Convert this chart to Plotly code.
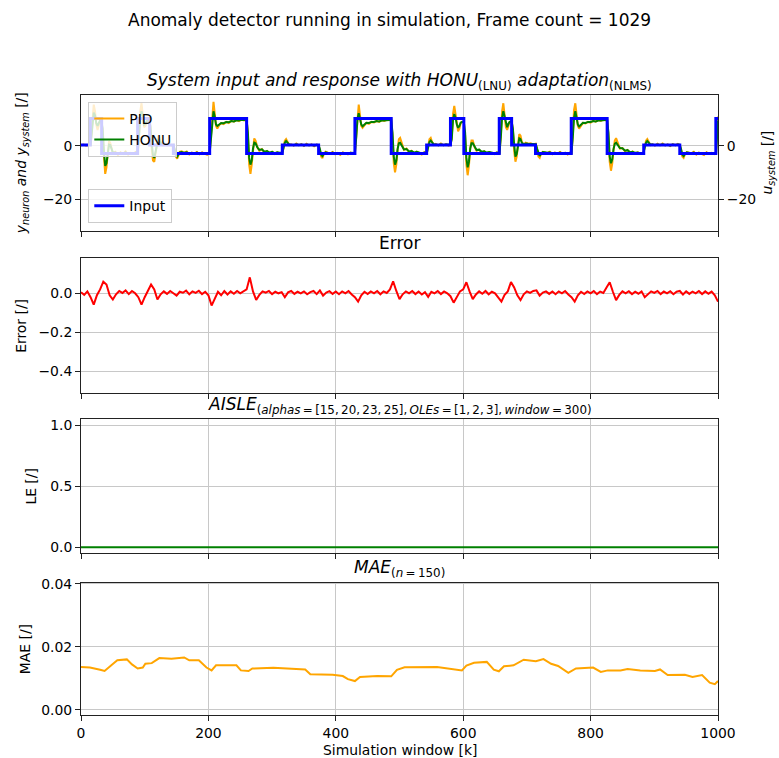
import plotly.graph_objects as go

# ---------------- data ----------------
x_ticks = [0, 200, 400, 600, 800, 1000]

# system input (step signal, right axis u_system)
input_k = [0, 14.6, 32.4, 88.9, 107.7, 145, 202, 260, 316, 373, 430, 487, 542.6,
           580, 601, 656.6, 676, 713.5, 769.6, 826, 883.4, 940, 996.6, 1000]
input_u = [0.3, 10.3, -2.8, 10.3, 0.3, -2.8, 10.3, -2.8, 0.3, -2.8, 10.3, -2.8, 0.3,
           10.3, -2.8, 10.3, 0.3, -2.8, 10.3, -2.8, 0.3, -2.8, 10.3, 10.3]

# sample positions of the system responses
resp_k = [
    0, 4, 8, 12, 15,
    16, 18, 20, 22, 24, 26, 28, 30, 32,
    34, 36, 38, 40, 42, 44, 46, 48, 50,
    54, 58, 62, 66, 70, 74, 78, 82, 86, 89,
    91, 93, 95, 97, 99, 101, 103, 105, 107,
    109, 111, 113, 115, 117, 119, 121, 123, 125, 128, 131, 135, 139, 142, 145,
    147, 149, 151, 153, 155, 158,
    162, 166, 170, 174, 178, 182, 186, 190, 194, 198, 202,
    204, 206, 208, 210, 212, 214, 217, 220, 224, 228, 232, 236, 240, 244, 248, 252, 256, 260,
    262, 264, 266, 268, 270, 272, 274, 277, 280, 284, 288, 292, 296, 300, 304, 308, 312, 316,
    318, 320, 322, 324, 327, 330,
    334, 338, 342, 346, 350, 354, 358, 362, 366, 370, 373,
    375, 377, 379, 381, 384, 387,
    391, 395, 399, 403, 407, 411, 415, 419, 423, 427, 430,
    432, 434, 436, 438, 440, 442, 445, 448, 452, 456, 460, 464, 468, 472, 476, 480, 484, 487,
    489, 491, 493, 495, 497, 499, 501, 504, 507, 511, 515, 519, 523, 527, 531, 535, 539, 543,
    545, 547, 549, 551, 554, 557,
    561, 565, 569, 573, 577, 580,
    582, 584, 586, 588, 590, 592, 594, 596, 598, 601,
    603, 605, 607, 609, 611, 613, 615, 618, 621, 625, 629, 633, 637, 641, 645, 649, 653, 657,
    659, 661, 663, 665, 667, 669, 671, 673, 676,
    678, 680, 682, 684, 686, 688, 690, 692, 695, 698, 702, 706, 710, 714,
    716, 718, 720, 722, 725, 728,
    732, 736, 740, 744, 748, 752, 756, 760, 764, 768, 770,
    772, 774, 776, 778, 780, 782, 785, 788, 792, 796, 800, 804, 808, 812, 816, 820, 824, 826,
    828, 830, 832, 834, 836, 838, 840, 843, 846, 850, 854, 858, 862, 866, 870, 874, 878, 883,
    885, 887, 889, 891, 894, 897,
    901, 905, 909, 913, 917, 921, 925, 929, 933, 937, 940,
    942, 944, 946, 948, 951, 954,
    958, 962, 966, 970, 974, 978, 982, 986, 990, 994, 997,
    998, 1000,
]

# PID controlled system output
pid_y = [
    0.2, 0.5, 0.1, 0.4, 0.3,
    3.0, 11.0, 15.5, 13.0, 8.0, 6.0, 8.5, 9.5, 9.0,
    6.0, -4.0, -10.5, -8.0, -2.0, 1.8, 1.0, -1.5, -2.8,
    -2.2, -3.4, -2.4, -3.0, -2.0, -3.3, -2.6, -2.9, -2.3, -2.8,
    4.0, 13.0, 16.0, 12.5, 7.0, 7.5, 9.0, 9.8, 9.5,
    7.0, -1.0, -5.5, -6.0, -2.5, 1.5, 3.5, 3.2, 1.5, 0.3, 0.8, 0.2, 0.6, 0.1, 0.4,
    -1.5, -4.0, -4.8, -3.5, -2.2, -2.0,
    -2.6, -2.1, -3.2, -2.5, -2.9, -2.3, -3.1, -2.4, -2.8, -3.3, -2.6,
    3.5, 13.0, 16.5, 12.0, 7.5, 6.5, 7.8, 8.5, 8.2, 9.0, 8.6, 9.4, 9.1, 9.7, 9.3, 9.9, 9.6, 10.0,
    4.0, -7.0, -10.5, -7.0, -1.0, 2.8, 2.0, -0.5, -1.8, -1.2, -2.6, -1.9, -2.8, -2.2, -3.0, -2.4, -2.9, -2.6,
    -0.5, 2.0, 2.6, 1.5, 0.3, 0.6,
    0.1, 0.9, 0.3, 0.7, 0.0, 0.8, 0.2, 0.6, -0.1, 0.5, 0.3,
    -1.5, -4.0, -4.6, -3.2, -2.2, -2.5,
    -2.9, -2.3, -3.1, -2.6, -3.4, -2.4, -2.8, -3.2, -2.5, -3.0, -2.7,
    3.5, 12.5, 15.5, 11.5, 7.5, 6.8, 7.8, 8.6, 8.3, 9.0, 8.8, 9.3, 9.0, 9.6, 9.4, 9.8, 9.6, 9.9,
    4.0, -6.5, -9.9, -7.0, -1.5, 2.5, 3.0, 0.5, -1.5, -1.0, -2.4, -1.8, -2.9, -2.2, -2.7, -3.2, -2.4, -2.6,
    0.0, 2.5, 3.0, 1.5, 0.4, 0.8,
    0.2, 0.9, 0.3, 0.7, 0.1, 0.4,
    3.0, 12.0, 15.0, 12.0, 7.5, 5.5, 6.5, 8.5, 9.0, 8.8,
    4.0, -7.0, -11.0, -7.5, -1.0, 2.0, 2.0, -0.5, -1.8, -1.4, -2.6, -2.0, -2.9, -2.3, -2.8, -3.1, -2.4, -2.7,
    4.0, 13.0, 16.0, 12.0, 7.0, 6.0, 8.0, 9.0, 9.3,
    6.0, -2.0, -5.9, -4.0, 1.0, 4.4, 3.8, 1.5, 0.5, 1.2, 0.8, 1.0, 0.6, 0.8,
    -1.5, -4.0, -4.5, -3.0, -2.2, -2.4,
    -2.7, -2.2, -3.1, -2.5, -2.9, -2.3, -3.0, -2.6, -3.2, -2.4, -2.7,
    4.0, 13.5, 16.0, 12.0, 7.5, 6.5, 7.8, 8.6, 8.4, 9.0, 8.7, 9.4, 9.1, 9.7, 9.4, 9.9, 9.6, 9.8,
    4.0, -6.0, -9.3, -6.5, -1.5, 2.0, 2.9, 1.0, -1.0, -0.8, -2.0, -1.5, -2.7, -2.1, -2.9, -2.4, -3.0, -2.6,
    -0.5, 2.0, 2.6, 1.5, 0.3, 0.7,
    0.1, 0.8, 0.3, 0.9, 0.2, 0.6, 0.0, 0.7, 0.3, 0.8, 0.4,
    -1.5, -4.0, -4.5, -3.2, -2.3, -2.6,
    -2.8, -2.2, -3.3, -2.5, -2.9, -3.4, -2.4, -2.9, -2.6, -3.1, -2.7,
    3.0, 11.0,
]

# HONU (neuron) output
honu_y = [
    0.3, 0.3, 0.2, 0.3, 0.3,
    2.5, 9.0, 12.5, 11.5, 8.5, 7.5, 8.8, 9.6, 9.3,
    6.5, -2.0, -7.5, -6.5, -2.0, 0.5, 0.3, -1.5, -2.5,
    -2.5, -3.0, -2.6, -2.8, -2.4, -3.0, -2.7, -2.8, -2.5, -2.7,
    3.0, 10.5, 13.0, 11.5, 8.0, 8.3, 9.2, 9.8, 9.6,
    7.5, 1.0, -3.5, -4.5, -2.0, 0.8, 2.3, 2.2, 1.2, 0.5, 0.6, 0.3, 0.4, 0.3, 0.3,
    -1.2, -3.2, -4.0, -3.2, -2.4, -2.3,
    -2.6, -2.4, -2.9, -2.6, -2.8, -2.5, -2.9, -2.6, -2.7, -2.9, -2.7,
    3.0, 10.0, 13.0, 11.0, 8.0, 7.5, 8.2, 8.6, 8.5, 9.0, 8.9, 9.3, 9.2, 9.6, 9.5, 9.8, 9.7, 9.9,
    5.0, -4.5, -7.0, -5.5, -1.0, 1.2, 1.0, -0.6, -1.5, -1.3, -2.2, -1.9, -2.5, -2.2, -2.7, -2.4, -2.6, -2.6,
    -0.8, 1.2, 1.8, 1.2, 0.5, 0.4,
    0.3, 0.6, 0.3, 0.5, 0.2, 0.5, 0.3, 0.4, 0.2, 0.4, 0.3,
    -1.2, -3.2, -3.8, -3.0, -2.4, -2.5,
    -2.8, -2.5, -2.9, -2.7, -3.0, -2.6, -2.8, -2.9, -2.6, -2.8, -2.7,
    3.0, 10.0, 12.3, 10.5, 8.0, 7.4, 8.2, 8.7, 8.6, 9.0, 9.0, 9.3, 9.2, 9.5, 9.5, 9.7, 9.7, 9.8,
    5.0, -4.0, -7.0, -5.5, -1.2, 1.0, 1.2, -0.3, -1.3, -1.2, -2.1, -1.9, -2.5, -2.2, -2.6, -2.8, -2.5, -2.6,
    -0.5, 1.5, 2.0, 1.2, 0.5, 0.5,
    0.3, 0.6, 0.3, 0.5, 0.3, 0.4,
    2.5, 9.5, 12.0, 10.5, 8.0, 6.8, 7.5, 8.7, 9.0, 9.0,
    5.0, -4.5, -8.0, -6.0, -1.0, 1.0, 1.0, -0.5, -1.5, -1.4, -2.2, -2.0, -2.5, -2.3, -2.6, -2.7, -2.5, -2.7,
    3.0, 10.5, 13.0, 11.0, 8.0, 7.0, 8.3, 9.0, 9.3,
    6.5, 0.5, -4.0, -3.0, 0.5, 2.8, 2.5, 1.2, 0.6, 0.9, 0.8, 0.8, 0.6, 0.6,
    -1.0, -3.0, -3.8, -3.0, -2.3, -2.4,
    -2.6, -2.4, -2.8, -2.6, -2.8, -2.5, -2.8, -2.6, -2.9, -2.6, -2.7,
    3.0, 10.5, 13.0, 11.0, 8.0, 7.3, 8.2, 8.7, 8.6, 9.0, 9.0, 9.3, 9.2, 9.5, 9.5, 9.7, 9.7, 9.8,
    5.0, -4.0, -6.5, -5.0, -1.2, 0.8, 1.2, 0.2, -0.8, -0.9, -1.8, -1.6, -2.4, -2.2, -2.6, -2.5, -2.7, -2.6,
    -0.8, 1.2, 1.8, 1.2, 0.5, 0.5,
    0.3, 0.5, 0.3, 0.6, 0.3, 0.4, 0.2, 0.5, 0.3, 0.5, 0.4,
    -1.2, -3.2, -3.8, -3.0, -2.4, -2.5,
    -2.7, -2.5, -2.9, -2.6, -2.8, -3.0, -2.6, -2.8, -2.7, -2.9, -2.7,
    2.5, 9.5,
]

# prediction error, every 5th step of the window
err_k = list(range(0, 1001, 5))
err_v = [
    0.005, -0.008, 0.010, -0.020, -0.058, -0.010, 0.020, 0.060, 0.045, -0.010,
    -0.032, -0.005, 0.012, 0.002, 0.015, -0.004, 0.012, 0.000, -0.020, -0.058,
    -0.020, 0.010, 0.045, 0.020, -0.032, -0.005, 0.010, -0.003, 0.012, 0.000,
    -0.012, 0.008, 0.003, 0.014, -0.005, 0.010, 0.002, 0.013, -0.004, 0.008,
    -0.010, -0.063, -0.025, 0.008, -0.010, 0.012, -0.006, 0.010, -0.002, 0.012,
    0.000, 0.010, 0.020, 0.082, 0.010, -0.034, -0.008, 0.010, 0.003, 0.012,
    -0.004, 0.008, 0.000, 0.006, -0.020, 0.005, 0.012, -0.003, 0.008, 0.000,
    0.010, -0.005, 0.006, 0.012, -0.004, 0.015, -0.012, 0.004, 0.011, -0.003,
    0.009, -0.005, 0.010, 0.000, 0.012, -0.006, -0.020, -0.043, -0.010, 0.008,
    -0.004, 0.010, 0.000, 0.012, -0.005, 0.010, 0.002, 0.020, 0.062, 0.012,
    -0.030, -0.005, 0.010, 0.000, 0.012, -0.004, 0.009, -0.006, 0.006, -0.018,
    0.008, 0.000, 0.012, -0.004, 0.010, 0.000, -0.015, -0.048, -0.015, 0.010,
    0.020, 0.057, 0.010, -0.030, -0.006, 0.010, -0.002, 0.012, -0.005, 0.008,
    0.000, -0.025, -0.043, -0.008, 0.010, 0.058, 0.030, -0.010, -0.035, -0.005,
    0.010, 0.002, 0.012, 0.015, -0.012, 0.004, 0.010, -0.003, 0.009, -0.005,
    0.010, 0.000, 0.012, -0.006, -0.020, -0.043, -0.010, 0.008, -0.004, 0.010,
    0.000, 0.012, -0.004, 0.009, 0.002, 0.030, 0.057, 0.008, -0.035, -0.008,
    0.010, 0.000, 0.011, -0.004, 0.008, -0.002, 0.010, -0.020, -0.005, 0.010,
    0.002, 0.012, -0.004, 0.009, 0.000, 0.011, -0.005, 0.008, 0.012, -0.006,
    0.010, -0.003, 0.009, 0.000, 0.012, -0.004, 0.010, -0.002, 0.009, -0.010,
    -0.043,
]

# AISLE learning entropy (stays at zero)
le_k = [0, 1000]
le_v = [0.0, 0.0]

# moving mean absolute error (n = 150)
mae_k = [0, 14, 30, 37, 49, 57, 72, 80, 89, 97,
         101, 111, 123, 142, 162, 170, 185, 197, 205, 212,
         244, 251, 263, 269, 302, 352, 360, 395, 411, 419,
         430, 438, 465, 487, 496, 508, 559, 574, 598, 605,
         617, 637, 648, 656, 664, 679, 695, 714, 726, 738,
         749, 765, 777, 804, 816, 827, 847, 858, 878, 901,
         909, 921, 948, 960, 975, 987, 995, 1000]
mae_v = [0.0136, 0.0134, 0.0127, 0.0123, 0.0144, 0.0157, 0.0160, 0.0144, 0.0131, 0.0134,
         0.0146, 0.0148, 0.0164, 0.0162, 0.0166, 0.0157, 0.0157, 0.0134, 0.0125, 0.0141,
         0.0141, 0.0125, 0.0123, 0.0131, 0.0133, 0.0128, 0.0113, 0.0111, 0.0107, 0.0097,
         0.0091, 0.0104, 0.0107, 0.0106, 0.0127, 0.0135, 0.0136, 0.0131, 0.0125, 0.0140,
         0.0149, 0.0152, 0.0127, 0.0122, 0.0138, 0.0141, 0.0159, 0.0154, 0.0161, 0.0146,
         0.0139, 0.0117, 0.0131, 0.0134, 0.0120, 0.0125, 0.0125, 0.0129, 0.0125, 0.0123,
         0.0128, 0.0110, 0.0111, 0.0104, 0.0110, 0.0086, 0.0081, 0.0091]

assert len(resp_k) == len(pid_y) == len(honu_y), (len(resp_k), len(pid_y), len(honu_y))
assert len(err_k) == len(err_v)
assert len(mae_k) == len(mae_v)
assert len(input_k) == len(input_u)

# ---------------- layout geometry (window pixels) ----------------
W, H = 779, 758
PLOT_L, PLOT_R, PLOT_T, PLOT_B = 80.7, 718.3, 95.0, 715.0
ML = PLOT_L
MR = W - PLOT_R
MT = PLOT_T
MB = H - PLOT_B
PH = PLOT_B - PLOT_T
PW = PLOT_R - PLOT_L


def py(ypix):
    return (PLOT_B - ypix) / PH


def px(xpix):
    return (xpix - PLOT_L) / PW


FONT = "DejaVu Sans"
TICK = 13.9
TITLE = 17
TS = "\u2009"  # thin space, as in the math-text subscripts

fig = go.Figure()
fig.add_trace(go.Scatter(x=resp_k, y=pid_y, mode="lines", name="PID",
                         line=dict(color="#ffa500", width=2), xaxis="x", yaxis="y",
                         legend="legend"))
fig.add_trace(go.Scatter(x=resp_k, y=honu_y, mode="lines", name="HONU",
                         line=dict(color="#008000", width=2), xaxis="x", yaxis="y",
                         legend="legend"))
fig.add_trace(go.Scatter(x=input_k, y=input_u, mode="lines", name="Input",
                         line=dict(color="#0000ff", width=3, shape="hv"),
                         xaxis="x", yaxis="y5", legend="legend2"))
fig.add_trace(go.Scatter(x=err_k, y=err_v, mode="lines", showlegend=False,
                         line=dict(color="#ff0000", width=2), xaxis="x2", yaxis="y2"))
fig.add_trace(go.Scatter(x=le_k, y=le_v, mode="lines", showlegend=False,
                         line=dict(color="#008000", width=2), xaxis="x3", yaxis="y3"))
fig.add_trace(go.Scatter(x=mae_k, y=mae_v, mode="lines", showlegend=False,
                         line=dict(color="#ffa500", width=2), xaxis="x4", yaxis="y4"))

ax = dict(showline=True, mirror=True, linecolor="#222222", linewidth=1,
          ticks="outside", ticklen=5, tickwidth=1, tickcolor="#222222",
          showgrid=True, gridcolor="#c8c8c8", gridwidth=1, zeroline=False,
          tickfont=dict(family=FONT, size=TICK, color="black"))

xcommon = dict(ax, domain=[0, 1], range=[0, 1000], tickvals=x_ticks,
               ticktext=[str(v) for v in x_ticks])

fig.update_layout(
    xaxis=dict(xcommon, anchor="y", showticklabels=False),
    xaxis2=dict(xcommon, anchor="y2", matches="x", showticklabels=False),
    xaxis3=dict(xcommon, anchor="y3", matches="x", showticklabels=False),
    xaxis4=dict(xcommon, anchor="y4", matches="x", showticklabels=True),
    yaxis=dict(ax, domain=[py(230.7), 1.0], anchor="x", range=[-31.8, 19.1],
               tickvals=[-20, 0], ticktext=["\u221220", "0"]),
    yaxis5=dict(ax, overlaying="y", side="right", anchor="x", range=[-31.8, 19.1],
                tickvals=[-20, 0], ticktext=["\u221220", "0"], showgrid=False,
                showline=False, mirror=False),
    yaxis2=dict(ax, domain=[py(392.7), py(258.3)], anchor="x2", range=[-0.511, 0.18],
                tickvals=[-0.4, -0.2, 0.0], ticktext=["\u22120.4", "\u22120.2", "0.0"]),
    yaxis3=dict(ax, domain=[py(553.3), py(419.3)], anchor="x3", range=[-0.05, 1.05],
                tickvals=[0, 0.5, 1.0], ticktext=["0.0", "0.5", "1.0"]),
    yaxis4=dict(ax, domain=[0, py(582.7)], anchor="x4", range=[-0.0017, 0.0404],
                tickvals=[0, 0.02, 0.04], ticktext=["0.00", "0.02", "0.04"]),
    legend=dict(x=px(88), y=py(102), xanchor="left", yanchor="top",
                bgcolor="rgba(255,255,255,0.8)", bordercolor="#cccccc", borderwidth=1,
                font=dict(family=FONT, size=TICK, color="black"), itemwidth=30,
                tracegroupgap=0),
    legend2=dict(x=px(88), y=py(223.3), xanchor="left", yanchor="bottom",
                 bgcolor="rgba(255,255,255,0.8)", bordercolor="#cccccc", borderwidth=1,
                 font=dict(family=FONT, size=TICK, color="black"), itemwidth=30),
    width=W, height=H,
    margin=dict(l=ML, r=MR, t=MT, b=MB, autoexpand=False),
    paper_bgcolor="white", plot_bgcolor="white",
    font=dict(family=FONT, size=TICK, color="black"),
    showlegend=True,
)

annots = [
    # main title (centred on the figure)
    dict(text="Anomaly detector running in simulation, Frame count = 1029",
         x=px(389.5), y=py(20), font=dict(size=TITLE)),
    # panel titles
    dict(text="<i>System input and response with HONU</i><sub>(LNU)</sub>"
              "<i> adaptation</i><sub>(NLMS)</sub>",
         x=0.5, y=py(82), font=dict(size=TITLE)),
    dict(text="Error", x=0.5, y=py(243.3), font=dict(size=TITLE)),
    dict(text="<i>AISLE</i><sub>(<i>alphas</i>" + TS + "=" + TS + "[15," + TS + "20," + TS
              + "23," + TS + "25]," + TS + "<i>OLEs</i>" + TS + "=" + TS + "[1," + TS + "2,"
              + TS + "3]," + TS + "<i>window</i>" + TS + "=" + TS + "300)</sub>",
         x=0.5, y=py(405), font=dict(size=TITLE)),
    dict(text="<i>MAE</i><sub>(<i>n</i>" + TS + "=" + TS + "150)</sub>", x=0.5, y=py(568),
         font=dict(size=TITLE)),
    # axis labels
    dict(text="<i>y</i><sub><i>neuron</i></sub><i> and y</i><sub><i>system</i></sub> [/]",
         x=0, xshift=22 - PLOT_L, y=py(162.9), textangle=-90),
    dict(text="<i>u</i><sub><i>system</i></sub> [/]",
         x=1, xshift=768 - PLOT_R, y=py(162.9), textangle=-90),
    dict(text="Error [/]", x=0, xshift=20 - PLOT_L, y=py(325.5), textangle=-90),
    dict(text="LE [/]", x=0, xshift=31 - PLOT_L, y=py(486.3), textangle=-90),
    dict(text="MAE [/]", x=0, xshift=25 - PLOT_L, y=py(648.9), textangle=-90),
    dict(text="Simulation window [k]", x=0.5, y=py(750)),
]
for a in annots:
    base = dict(xref="paper", yref="paper", showarrow=False, xanchor="center",
                yanchor="middle", font=dict(family=FONT, size=TICK, color="black"))
    f = dict(base["font"])
    f.update(a.pop("font", {}))
    base.update(a)
    base["font"] = f
    fig.add_annotation(**base)

# remove the browser's default page margin so the figure fills the window exactly
fig.write_html(
    "out.html",
    config={"displayModeBar": False},
    post_script="document.body.style.margin='0px';"
                "document.documentElement.style.overflow='hidden';",
)
